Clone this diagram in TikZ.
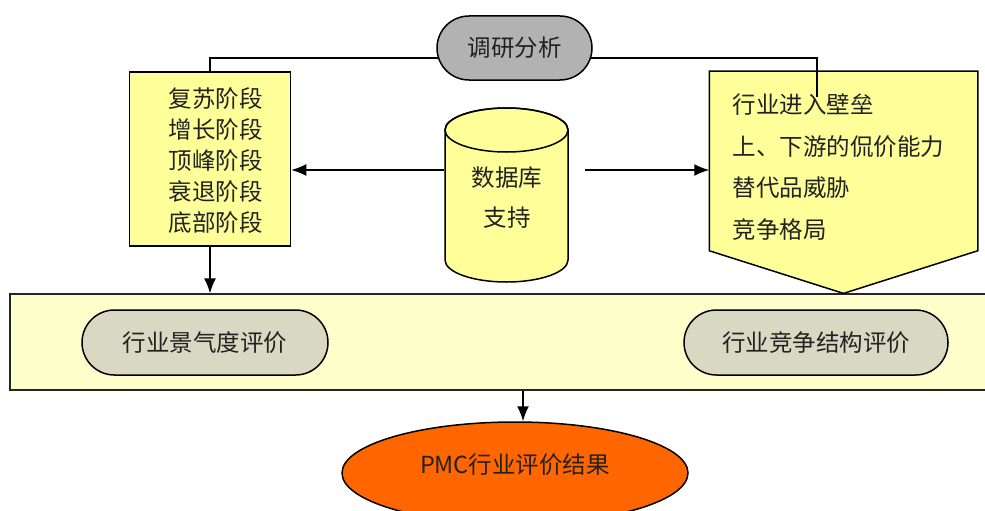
\documentclass[tikz,border=0pt]{standalone}
\usepackage{fontspec}
\setmainfont{Noto Sans CJK SC}
\usetikzlibrary{arrows.meta,calc,shapes.misc,shapes.geometric}
\definecolor{graybox}{HTML}{B2B2B2}
\definecolor{yel}{HTML}{FFFF99}
\definecolor{pale}{HTML}{FFFFCC}
\definecolor{stad}{HTML}{D9D9C3}
\definecolor{orng}{HTML}{FF6600}
\definecolor{txt}{HTML}{222222}
\begin{document}
\begin{tikzpicture}[x=1pt,y=-1pt,line width=1.5pt,
  font=\fontsize{23.5}{27}\selectfont, text=txt,
  arr/.style={-{Latex[length=15pt,width=12pt]}},
  stadium/.style={rounded rectangle,draw,inner sep=0pt,minimum height=64pt},
  boxshape/.style={rectangle,inner sep=0pt},
  txtnode/.style={inner sep=0pt,align=left}]
\useasboundingbox (0,0) rectangle (985,511);
% band
\node[boxshape,draw=black!85,line width=1.2pt,fill=pale,minimum width=980pt,minimum height=96pt] (band) at (500,342) {};
% top research node
\node[stadium,fill=graybox,minimum width=155pt] (res) at (514.5,48) {调研分析};
% left box
\node[boxshape,draw,fill=yel,minimum width=161pt,minimum height=174pt] (lbox) at (210,159) {};
\node[txtnode,font=\fontsize{23.5}{31}\selectfont,anchor=west] (lboxt) at (168,161) {复苏阶段\\增长阶段\\顶峰阶段\\衰退阶段\\底部阶段};
% pentagon
\node[boxshape,minimum width=267pt,minimum height=178pt] (pent) at (843.5,161) {};
\draw[fill=yel] (pent.north west) -- (pent.north east) -- (pent.south east) -- (pent.south |- band.north) -- (pent.south west) -- cycle;
\node[txtnode,font=\fontsize{23.5}{41.5}\selectfont,anchor=west] (pentt) at (732,167) {行业进入壁垒\\上、下游的侃价能力\\替代品威胁\\竞争格局};
% cylinder
\node[boxshape,minimum width=123pt,minimum height=174pt] (db) at (506.5,195) {};
\draw[fill=yel] (445,130) -- (445,260) arc[start angle=180,end angle=0,x radius=61.5,y radius=22] -- (568,130) arc[start angle=0,end angle=-180,x radius=61.5,y radius=22] -- cycle;
\draw (506.5,130) ellipse[x radius=61.5,y radius=22];
\node[inner sep=0pt,align=center,font=\fontsize{23.5}{40}\selectfont] (dbt) at (507,198) {数据库\\支持};
% evaluation stadiums
\node[stadium,fill=stad,minimum width=246pt,minimum height=65pt] (e1) at (205,342.5) {行业景气度评价};
\node[stadium,fill=stad,minimum width=264pt,minimum height=65pt] (e2) at (816,342.5) {行业竞争结构评价};
% result ellipse
\node[ellipse,draw,fill=orng,inner sep=0pt,minimum width=346pt,minimum height=102pt] (pmc) at (515,473) {};
\node[inner sep=0pt] (pmct) at (515,465) {PMC行业评价结果};
% connectors
\coordinate (ay) at (0,170);
\coordinate (rs) at (585,170);
\coordinate (rend) at (817,97);
\coordinate (ax) at (523,0);
\draw ($(res.west)+(1.5,10)$) -| (lbox.north);
\draw ($(res.east)+(-1.5,10)$) -| (rend);
\draw[arr] (db.west |- ay) -- (lbox.east |- ay);
\draw[arr] (rs) -- (pent.west |- rs);
\draw[arr] (lbox.south) -- (lbox.south |- band.north);
\draw[arr] (band.south -| ax) -- (ax |- pmc.north);
\end{tikzpicture}
\end{document}
